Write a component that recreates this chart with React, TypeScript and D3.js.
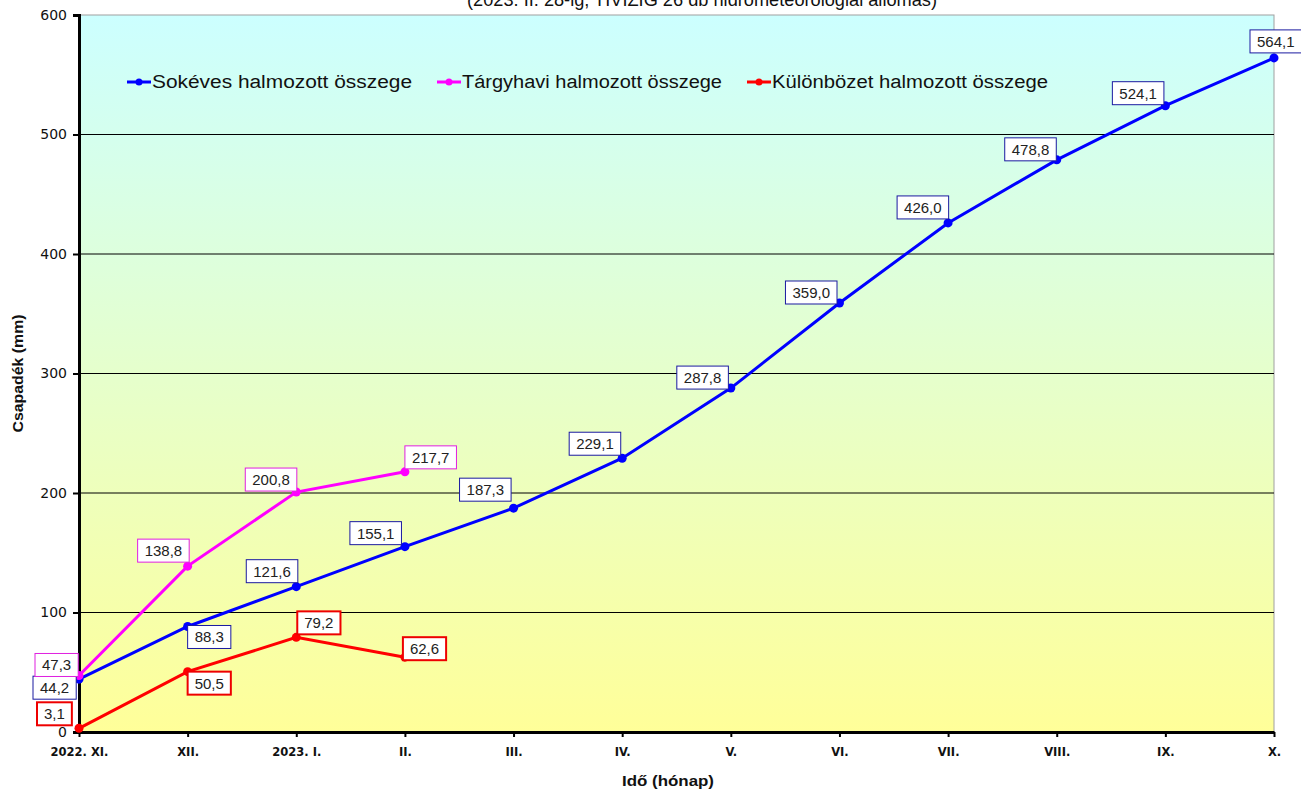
import React, { useEffect, useRef } from 'react';
import * as d3 from 'd3';

const months = ['2022. XI.', 'XII.', '2023. I.', 'II.', 'III.', 'IV.', 'V.', 'VI.', 'VII.', 'VIII.', 'IX.', 'X.'];
const sokeves = [44.2, 88.3, 121.6, 155.1, 187.3, 229.1, 287.8, 359.0, 426.0, 478.8, 524.1, 564.1];
const targyhavi = [47.3, 138.8, 200.8, 217.7];
const kulonbozet = [3.1, 50.5, 79.2, 62.6];
const yTicks = [0, 100, 200, 300, 400, 500, 600];
const seriesNames = ['Sokéves halmozott összege', 'Tárgyhavi halmozott összege', 'Különbözet halmozott összege'];

// label box offsets (top-left of box relative to the point)
const blueOffsets = [[-46, -3], [0, -1], [-50, -27], [-55, -25], [-54, -30], [-53, -26], [-54, -22], [-54, -22], [-51, -27], [-52, -22], [-53, -24], [-24, -28]];
const pinkOffsets = [[-44, -22], [-50, -27], [-51, -24], [0, -26]];
const redOffsets = [[-42, -26], [0, 0], [1, -26], [-2, -20]];

const fmt = (v: number) => v.toFixed(1).replace('.', ',');

export default function App() {
  const ref = useRef<SVGSVGElement>(null);

  useEffect(() => {
    if (!ref.current) return;
    const svg = d3.select(ref.current);
    svg.selectAll('*').remove();

    const W = 1301, H = 789;
    const left = 79, right = 1274, top = 15, bottom = 732;

    const x = d3.scalePoint<string>().domain(months).range([left, right]);
    const y = d3.scaleLinear().domain([0, 600]).range([bottom, top]);

    const defs = svg.append('defs');
    const grad = defs.append('linearGradient').attr('id', 'bg').attr('x1', 0).attr('y1', 0).attr('x2', 0).attr('y2', 1);
    grad.append('stop').attr('offset', '0%').attr('stop-color', '#ccffff');
    grad.append('stop').attr('offset', '100%').attr('stop-color', '#ffff99');

    svg.append('rect').attr('width', W).attr('height', H).attr('fill', '#ffffff');

    // title (partly cut off at the top, as in the source image)
    svg.append('text')
      .attr('x', 702).attr('y', 6)
      .attr('text-anchor', 'middle')
      .attr('font-family', 'Liberation Sans, Arial, sans-serif')
      .attr('font-size', 18)
      .attr('fill', '#111')
      .attr('textLength', 470)
      .attr('lengthAdjust', 'spacingAndGlyphs')
      .text('(2023. II. 28-ig, TIVIZIG 26 db hidrometeorológiai állomás)');

    // plot area
    svg.append('rect')
      .attr('x', left).attr('y', top)
      .attr('width', right - left).attr('height', bottom - top)
      .attr('fill', 'url(#bg)')
      .attr('stroke', '#a0a0a0').attr('stroke-width', 1);

    // gridlines
    svg.append('g').selectAll('line')
      .data(yTicks.filter(t => t > 0 && t < 600))
      .enter().append('line')
      .attr('x1', left).attr('x2', right)
      .attr('y1', d => y(d)).attr('y2', d => y(d))
      .attr('stroke', '#000').attr('stroke-width', 1);

    // y axis
    const yAxis = svg.append('g')
      .attr('transform', `translate(${left},0)`)
      .call(d3.axisLeft(y).tickValues(yTicks).tickSize(6).tickPadding(6).tickFormat(d => String(d)));
    yAxis.select('.domain').attr('stroke', '#000').attr('stroke-width', 3);
    yAxis.selectAll('.tick line').attr('stroke', '#000').attr('stroke-width', 2);
    yAxis.selectAll('text')
      .attr('font-family', 'DejaVu Sans, Verdana, sans-serif')
      .attr('font-size', 14)
      .attr('fill', '#111');

    // x axis
    const xAxis = svg.append('g')
      .attr('transform', `translate(0,${bottom})`)
      .call(d3.axisBottom(x).tickSize(5).tickPadding(11).tickSizeOuter(0));
    xAxis.select('.domain').attr('stroke', '#000').attr('stroke-width', 3);
    xAxis.selectAll('.tick line').attr('stroke', '#000').attr('stroke-width', 2);
    xAxis.selectAll('text')
      .attr('font-family', 'DejaVu Sans, Verdana, sans-serif')
      .attr('font-weight', 'bold')
      .attr('font-size', 11.5)
      .attr('fill', '#111');

    // axis titles
    svg.append('text')
      .attr('transform', `translate(23,${(top + bottom) / 2}) rotate(-90)`)
      .attr('text-anchor', 'middle')
      .attr('font-family', 'Liberation Sans, Arial, sans-serif')
      .attr('font-weight', 'bold')
      .attr('font-size', 15)
      .attr('fill', '#111')
      .attr('textLength', 118)
      .attr('lengthAdjust', 'spacingAndGlyphs')
      .text('Csapadék (mm)');
    svg.append('text')
      .attr('x', 668).attr('y', 786)
      .attr('text-anchor', 'middle')
      .attr('font-family', 'Liberation Sans, Arial, sans-serif')
      .attr('font-weight', 'bold')
      .attr('font-size', 15)
      .attr('fill', '#111')
      .attr('textLength', 92)
      .attr('lengthAdjust', 'spacingAndGlyphs')
      .text('Idő (hónap)');

    const line = d3.line<number>()
      .x((_, i) => x(months[i]) as number)
      .y(d => y(d));

    const series = [
      { values: sokeves, color: '#0000ff', box: '#1a1aa0', boxW: 1, offsets: blueOffsets },
      { values: targyhavi, color: '#ff00ff', box: '#e020e0', boxW: 1, offsets: pinkOffsets },
      { values: kulonbozet, color: '#ff0000', box: '#ee0000', boxW: 2, offsets: redOffsets },
    ];

    series.forEach(s => {
      svg.append('path')
        .datum(s.values)
        .attr('d', line)
        .attr('fill', 'none')
        .attr('stroke', s.color)
        .attr('stroke-width', 3);
      svg.append('g').selectAll('circle')
        .data(s.values)
        .enter().append('circle')
        .attr('cx', (_, i) => x(months[i]) as number)
        .attr('cy', d => y(d))
        .attr('r', 4.5)
        .attr('fill', s.color);
    });

    // value labels
    series.forEach(s => {
      s.values.forEach((v, i) => {
        const px = x(months[i]) as number;
        const py = y(v);
        const [dx, dy] = s.offsets[i];
        const g = svg.append('g').attr('transform', `translate(${px + dx},${py + dy})`);
        const rect = g.append('rect').attr('fill', '#fff').attr('stroke', s.box).attr('stroke-width', s.boxW);
        const t = g.append('text')
          .attr('font-family', 'Liberation Sans, Arial, sans-serif')
          .attr('font-size', 15)
          .attr('fill', '#222')
          .attr('x', 7).attr('y', 17)
          .text(fmt(v));
        const w = (t.node() as SVGTextElement).getComputedTextLength() + 14;
        rect.attr('width', w).attr('height', 23);
      });
    });

    // legend
    const legendX = [127, 437, 747];
    const legendW = [260, 260, 276];
    series.forEach((s, i) => {
      const lx = legendX[i];
      const ly = 82;
      svg.append('line')
        .attr('x1', lx).attr('x2', lx + 24)
        .attr('y1', ly).attr('y2', ly)
        .attr('stroke', s.color).attr('stroke-width', 3);
      svg.append('circle').attr('cx', lx + 12).attr('cy', ly).attr('r', 3.5).attr('fill', s.color);
      svg.append('text')
        .attr('x', lx + 25).attr('y', ly + 6)
        .attr('font-family', 'Liberation Sans, Arial, sans-serif')
        .attr('font-size', 18)
        .attr('fill', '#111')
        .attr('textLength', legendW[i])
        .attr('lengthAdjust', 'spacingAndGlyphs')
        .text(seriesNames[i]);
    });
  }, []);

  return (
    <svg
      ref={ref}
      width={1301}
      height={789}
      style={{ position: 'absolute', left: 0, top: 0, display: 'block' }}
    />
  );
}
